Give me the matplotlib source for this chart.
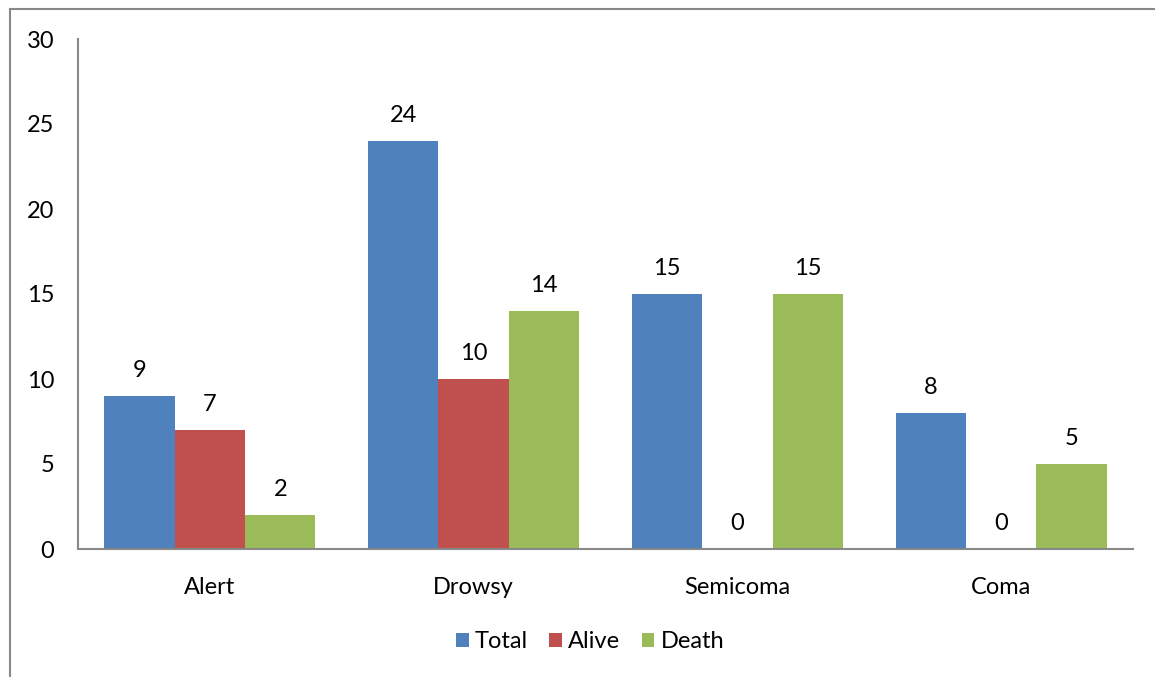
import numpy as np
import matplotlib.pyplot as plt
from matplotlib.patches import Rectangle

plt.rcParams['font.family'] = ['Lato', 'DejaVu Sans']

categories = ['Alert', 'Drowsy', 'Semicoma', 'Coma']
series_names = ['Total', 'Alive', 'Death']
total = [9, 24, 15, 8]
alive = [7, 10, 0, 0]
death = [2, 14, 15, 5]
colors = ['#4F81BD', '#C0504D', '#9BBB59']
fs = 17

fig = plt.figure(figsize=(11.55, 6.77), dpi=100)
# outer chart frame
fig.patches.append(Rectangle((10 / 1155, -0.05), 1.2, 1 - 9 / 677 + 0.05,
                             transform=fig.transFigure, fill=False,
                             edgecolor='#888888', linewidth=1.5))

ax = fig.add_axes([78 / 1155, 1 - 549 / 677, (1133 - 78) / 1155, (549 - 39) / 677])

x = np.arange(len(categories))
w = 0.8 / 3
for i, (vals, name) in enumerate(zip([total, alive, death], series_names)):
    bars = ax.bar(x + (i - 1) * w, vals, w, color=colors[i], label=name)
    for b, v in zip(bars, vals):
        ax.text(b.get_x() + b.get_width() / 2, v + 0.9, str(v),
                ha='center', va='bottom', fontsize=fs)

ax.set_xlim(-0.5, len(categories) - 0.5)
ax.set_ylim(0, 30)
ax.set_yticks(range(0, 31, 5))
ax.set_xticks(x)
ax.set_xticklabels(categories)
ax.tick_params(length=0, labelsize=fs)
ax.tick_params(axis='y', pad=17)
ax.tick_params(axis='x', pad=20)
for s in ['top', 'right']:
    ax.spines[s].set_visible(False)
for s in ['left', 'bottom']:
    ax.spines[s].set_color('#888888')
    ax.spines[s].set_linewidth(1.5)

ax.legend(loc='center', bbox_to_anchor=(590 / 1155, 1 - 642 / 677),
          bbox_transform=fig.transFigure, ncol=3, frameon=False,
          fontsize=fs, handlelength=0.55, handleheight=0.55,
          handletextpad=0.25, columnspacing=0.9)

fig.savefig('out.png', dpi=100)
